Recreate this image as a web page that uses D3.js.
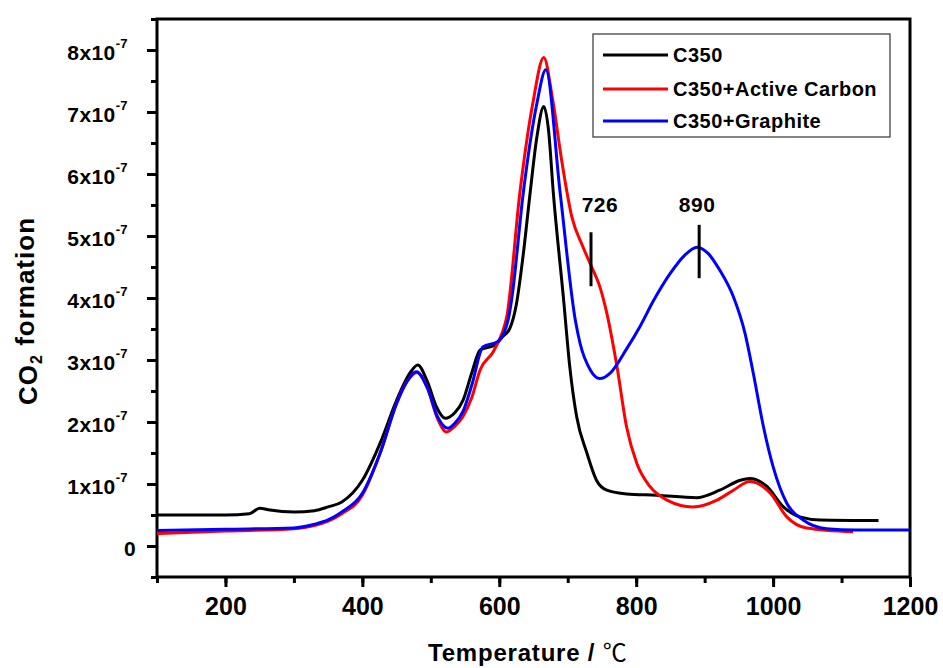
<!DOCTYPE html>
<html>
<head>
<meta charset="utf-8">
<script src="https://d3js.org/d3.v7.min.js"></script>
<style>
  body { margin: 0; background: #fff; }
  text { font-family: Arial, "Liberation Sans", sans-serif; font-weight: bold; }
</style>
</head>
<body>
<div id="chart"></div>
<script>
// CO2 formation values are in units of 1e-7
const seriesNames = ["C350", "C350+Active Carbon", "C350+Graphite"];
const seriesColors = ["#000000", "#ff0000", "#0000ff"];

const c350T = [100, 200, 235, 250, 265, 300, 330, 350, 370, 400, 426, 450, 470, 481, 495, 508, 521, 535, 547, 560, 572, 594, 605, 615, 625, 635, 645, 655, 665, 672, 679, 694, 703, 713, 728, 742, 757, 786, 830, 888, 922, 952, 966, 991, 1015, 1039, 1069, 1154];
const c350V = [0.5, 0.5, 0.52, 0.61, 0.58, 0.55, 0.57, 0.63, 0.71, 1.06, 1.66, 2.35, 2.8, 2.92, 2.65, 2.25, 2.06, 2.15, 2.35, 2.8, 3.16, 3.24, 3.38, 3.5, 3.9, 4.7, 5.69, 6.6, 7.09, 6.7, 5.69, 3.97, 2.89, 2.09, 1.5, 1.06, 0.9, 0.84, 0.82, 0.78, 0.9, 1.06, 1.09, 0.96, 0.63, 0.47, 0.42, 0.41];

const activeT = [100, 200, 300, 330, 350, 370, 400, 426, 450, 465, 480, 495, 510, 523, 535, 547, 560, 572, 591, 604, 611, 630, 649, 665, 678, 691, 706, 722, 735, 747, 757, 772, 786, 801, 820, 845, 883, 918, 942, 966, 996, 1020, 1049, 1117];
const activeV = [0.2, 0.24, 0.28, 0.33, 0.4, 0.52, 0.82, 1.5, 2.3, 2.65, 2.8, 2.55, 2.05, 1.84, 1.93, 2.09, 2.4, 2.84, 3.13, 3.43, 3.7, 5.69, 7.14, 7.88, 7.2, 6.23, 5.31, 4.83, 4.5, 4.18, 3.76, 2.89, 1.92, 1.33, 0.96, 0.74, 0.63, 0.74, 0.9, 1.04, 0.85, 0.47, 0.29, 0.23];

const graphiteT = [100, 200, 300, 330, 350, 370, 400, 426, 450, 465, 479, 495, 510, 525, 535, 547, 560, 576, 598, 613, 618, 635, 655, 668, 689, 711, 718, 733, 747, 762, 786, 806, 825, 850, 870, 889, 905, 922, 942, 959, 971, 986, 1000, 1020, 1044, 1078, 1120, 1200];
const graphiteV = [0.25, 0.27, 0.29, 0.35, 0.42, 0.55, 0.85, 1.5, 2.3, 2.65, 2.81, 2.55, 2.08, 1.9, 1.98, 2.17, 2.6, 3.21, 3.3, 3.65, 3.97, 5.69, 7.14, 7.68, 5.69, 3.65, 3.27, 2.84, 2.7, 2.79, 3.18, 3.55, 3.95, 4.4, 4.68, 4.82, 4.72, 4.45, 4.02, 3.43, 2.79, 1.92, 1.28, 0.69, 0.42, 0.28, 0.26, 0.26];

const xTicks = [200, 400, 600, 800, 1000, 1200];
const yTicks = [0, 1, 2, 3, 4, 5, 6, 7, 8];

const annotLabels = ["726", "890"];
const annotX = [734, 892];
const annotLabelX = [747, 889];
const annotTop = [5.06, 5.18];
const annotBottom = [4.19, 4.32];
const annotLabelY = [5.39, 5.39];

// dimensions and margins
const margin = {top: 19, right: 33, bottom: 91, left: 157},
    width = 943 - margin.left - margin.right,
    height = 668 - margin.top - margin.bottom;

const svg = d3.select("#chart").append("svg")
    .attr("width", 943)
    .attr("height", 668)
    .append("g")
    .attr("transform", "translate(" + margin.left + "," + margin.top + ")");

const x = d3.scaleLinear().domain([100, 1200]).range([0, width]);
const y = d3.scaleLinear().domain([-0.5, 8.5]).range([height, 0]);

// minor ticks
svg.append("g")
    .attr("transform", "translate(0," + height + ")")
    .call(d3.axisBottom(x).tickValues(d3.range(100, 1201, 100)).tickSize(6).tickFormat(""))
    .call(g => g.select(".domain").remove())
    .selectAll("line").attr("stroke-width", 3);
svg.append("g")
    .call(d3.axisLeft(y).tickValues(d3.range(-0.5, 8.6, 0.5)).tickSize(6).tickFormat(""))
    .call(g => g.select(".domain").remove())
    .selectAll("line").attr("stroke-width", 3);

// major ticks and labels
const xAxis = svg.append("g")
    .attr("transform", "translate(0," + height + ")")
    .call(d3.axisBottom(x).tickValues(xTicks).tickSize(10).tickPadding(10).tickFormat(d3.format("d")));
xAxis.select(".domain").remove();
xAxis.selectAll("line").attr("stroke-width", 3);
xAxis.selectAll("text")
    .attr("font-size", 25)
    .attr("font-family", "Arial, 'Liberation Sans', sans-serif")
    .attr("fill", "#000");

const yAxis = svg.append("g")
    .call(d3.axisLeft(y).tickValues(yTicks).tickSize(10).tickPadding(14).tickFormat(""));
yAxis.select(".domain").remove();
yAxis.selectAll("line").attr("stroke-width", 3);
yAxis.selectAll(".tick").append("text")
    .attr("x", -29)
    .attr("dy", "0.43em")
    .attr("text-anchor", "end")
    .attr("font-size", 21)
    .attr("font-family", "Arial, 'Liberation Sans', sans-serif")
    .attr("letter-spacing", 0.4)
    .attr("fill", "#000")
    .each(function(d) {
        const t = d3.select(this);
        if (d === 0) { t.attr("x", -21).text("0"); return; }
        t.append("tspan").text(d + "x10");
        t.append("tspan").attr("font-size", 13).attr("dy", "-0.85em").text("-7");
    });

// frame
svg.append("rect")
    .attr("width", width)
    .attr("height", height)
    .attr("fill", "none")
    .attr("stroke", "#000")
    .attr("stroke-width", 3);

// curves
const line = d3.line()
    .x(d => x(d[0]))
    .y(d => y(d[1]))
    .curve(d3.curveMonotoneX);

const series = [
    d3.zip(c350T, c350V),
    d3.zip(activeT, activeV),
    d3.zip(graphiteT, graphiteV)
];

svg.append("g")
    .selectAll("path")
    .data(series)
    .enter()
    .append("path")
    .attr("d", line)
    .attr("fill", "none")
    .attr("stroke", (d, i) => seriesColors[i])
    .attr("stroke-width", 3)
    .attr("stroke-linejoin", "round");

// peak markers
svg.append("g")
    .selectAll("line")
    .data(annotLabels)
    .enter()
    .append("line")
    .attr("x1", (d, i) => x(annotX[i]))
    .attr("x2", (d, i) => x(annotX[i]))
    .attr("y1", (d, i) => y(annotTop[i]))
    .attr("y2", (d, i) => y(annotBottom[i]))
    .attr("stroke", "#000")
    .attr("stroke-width", 3);

svg.append("g")
    .selectAll("text")
    .data(annotLabels)
    .enter()
    .append("text")
    .attr("x", (d, i) => x(annotLabelX[i]))
    .attr("y", (d, i) => y(annotLabelY[i]))
    .attr("text-anchor", "middle")
    .attr("font-size", 21)
    .attr("letter-spacing", 0.5)
    .text(d => d);

// legend
const legend = svg.append("g")
    .attr("transform", "translate(" + (593 - margin.left) + "," + (34 - margin.top) + ")");
legend.append("rect")
    .attr("width", 297)
    .attr("height", 103)
    .attr("fill", "#fff")
    .attr("stroke", "#333")
    .attr("stroke-width", 1.2);
const item = legend.selectAll(".item")
    .data(seriesNames)
    .enter().append("g")
    .attr("transform", (d, i) => "translate(0," + [21, 55, 87][i] + ")");
item.append("line")
    .attr("x1", 10).attr("x2", 75)
    .attr("stroke", (d, i) => seriesColors[i])
    .attr("stroke-width", 3);
item.append("text")
    .attr("x", 80)
    .attr("dy", "0.36em")
    .attr("font-size", 20)
    .attr("letter-spacing", 0.5)
    .text(d => d);

// axis titles
svg.append("text")
    .attr("x", 428 - margin.left)
    .attr("y", 661 - margin.top)
    .attr("font-size", 24)
    .attr("letter-spacing", 0.8)
    .call(t => t.append("tspan").text("Temperature / "))
    .call(t => t.append("tspan").attr("font-weight", "normal").attr("font-family", "'Noto Sans CJK SC', sans-serif").text("℃"));

svg.append("text")
    .attr("transform", "translate(" + (37 - margin.left) + "," + (311 - margin.top) + ") rotate(-90)")
    .attr("text-anchor", "middle")
    .attr("font-size", 26)
    .attr("letter-spacing", 1)
    .call(t => t.append("tspan").text("CO"))
    .call(t => t.append("tspan").attr("font-size", 16).attr("dy", "0.3em").text("2"))
    .call(t => t.append("tspan").attr("dy", "-0.3em").text(" formation"));
</script>
</body>
</html>
